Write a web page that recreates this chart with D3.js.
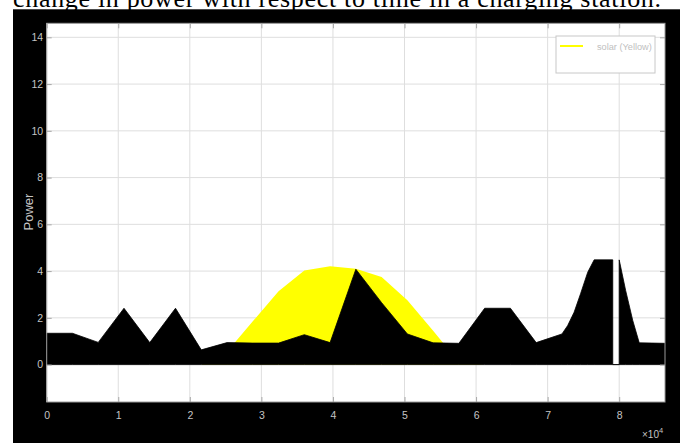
<!DOCTYPE html>
<html>
<head>
<meta charset="utf-8">
<script src="https://cdn.jsdelivr.net/npm/d3@7"></script>
<style>
  html, body { margin: 0; padding: 0; background: #ffffff; }
  svg { display: block; }
</style>
</head>
<body>
<svg id="chart" width="686" height="443"></svg>
<script>
// Charging-station power over one day (seconds), total load and solar contribution
const loadTime  = [0, 3600, 7200, 10800, 14400, 18000, 21600, 25200, 28800, 32400,
                   36000, 39600, 43200, 46800, 50400, 54000, 57600, 61200, 64800, 68400,
                   72000, 72800, 73700, 74600, 75600, 76500, 79100, 79100, 80000, 80000,
                   80900, 81900, 82800, 86400];
const loadPower = [1.34, 1.34, 0.95, 2.41, 0.94, 2.41, 0.63, 0.94, 0.92, 0.92,
                   1.28, 0.94, 4.08, 2.65, 1.31, 0.93, 0.91, 2.41, 2.41, 0.94,
                   1.31, 1.67, 2.24, 3.03, 3.95, 4.48, 4.48, 0, 0, 4.48,
                   3.17, 1.88, 0.93, 0.91];

const solarTime  = [0, 21600, 25200, 28800, 32400, 36000, 39600, 43200, 46800,
                    50400, 54000, 57600, 61200, 86400];
const solarPower = [0, 0, 0.55, 1.85, 3.14, 4.02, 4.21, 4.10, 3.75,
                    2.75, 1.45, 0.10, 0, 0];

const xTicks = [0, 10000, 20000, 30000, 40000, 50000, 60000, 70000, 80000];
const xTickLabels = ["0", "1", "2", "3", "4", "5", "6", "7", "8"];
const yTicks = [0, 2, 4, 6, 8, 10, 12, 14];
const yTickLabels = ["0", "2", "4", "6", "8", "10", "12", "14"];

const legendLabels = ["solar (Yellow)"];
const captionText = "change in power with respect to time in a charging station.";

const svg = d3.select("#chart");
const W = 686, H = 443;
const plot = { left: 46.7, right: 665, top: 23.3, bottom: 402 };
const axisGrey = "#c4c4c4";
const sans = "'Liberation Sans', Arial, sans-serif";

const x = d3.scaleLinear().domain([0, 86400]).range([plot.left, plot.right]);
const y = d3.scaleLinear().domain([-1.6, 14.6]).range([plot.bottom, plot.top]);

// document caption above the figure
svg.append("text")
  .attr("x", 13).attr("y", 6.5)
  .attr("textLength", 648).attr("lengthAdjust", "spacing")
  .style("font-family", "'Liberation Serif', 'Times New Roman', serif")
  .style("font-size", "26px")
  .attr("fill", "#000")
  .text(captionText);

// figure background
svg.append("rect")
  .attr("x", 13).attr("y", 9.3)
  .attr("width", 667).attr("height", H - 9.3)
  .attr("fill", "#000");

// axes background
svg.append("rect")
  .attr("x", plot.left).attr("y", plot.top)
  .attr("width", plot.right - plot.left).attr("height", plot.bottom - plot.top)
  .attr("fill", "#fff");

// grid
const grid = svg.append("g").attr("stroke", "#dedede").attr("stroke-width", 1);
xTicks.forEach(t => {
  grid.append("line")
    .attr("x1", x(t)).attr("x2", x(t))
    .attr("y1", plot.top).attr("y2", plot.bottom);
});
yTicks.forEach(t => {
  grid.append("line")
    .attr("x1", plot.left).attr("x2", plot.right)
    .attr("y1", y(t)).attr("y2", y(t));
});

// solar area (behind)
const solarData = solarTime.map((t, i) => ({ t, v: solarPower[i] }));
svg.append("path")
  .datum(solarData)
  .attr("fill", "#ffff00")
  .attr("d", d3.area().x(d => x(d.t)).y0(y(0)).y1(d => y(d.v)));

// total load area (front)
const loadData = loadTime.map((t, i) => ({ t, v: loadPower[i] }));
svg.append("path")
  .datum(loadData)
  .attr("fill", "#000")
  .attr("stroke", "#000")
  .attr("stroke-width", 0.8)
  .attr("stroke-linejoin", "miter")
  .attr("d", d3.area().x(d => x(d.t)).y0(y(0)).y1(d => y(d.v)));

// axes with inward ticks on all four sides
const tickLen = 5;
const xAxisBottom = d3.axisBottom(x).tickValues(xTicks)
  .tickFormat((d, i) => xTickLabels[i]).tickSizeInner(-tickLen).tickSizeOuter(0).tickPadding(9.5);
const xAxisTop = d3.axisTop(x).tickValues(xTicks)
  .tickFormat("").tickSizeInner(-tickLen).tickSizeOuter(0);
const yAxisLeft = d3.axisLeft(y).tickValues(yTicks)
  .tickFormat((d, i) => yTickLabels[i]).tickSizeInner(-tickLen).tickSizeOuter(0).tickPadding(3.5);
const yAxisRight = d3.axisRight(y).tickValues(yTicks)
  .tickFormat("").tickSizeInner(-tickLen).tickSizeOuter(0);

function styleAxis(g) {
  g.select(".domain").remove();
  g.selectAll(".tick line").attr("stroke", "#a8a8a8");
  g.selectAll(".tick text")
    .attr("fill", axisGrey)
    .style("font-family", sans)
    .style("font-size", "10.5px");
}

svg.append("g").attr("transform", `translate(0,${plot.bottom})`).call(xAxisBottom).call(styleAxis);
svg.append("g").attr("transform", `translate(0,${plot.top})`).call(xAxisTop).call(styleAxis);
svg.append("g").attr("transform", `translate(${plot.left},0)`).call(yAxisLeft).call(styleAxis);
svg.append("g").attr("transform", `translate(${plot.right},0)`).call(yAxisRight).call(styleAxis);

// axes box
svg.append("rect")
  .attr("x", plot.left).attr("y", plot.top)
  .attr("width", plot.right - plot.left).attr("height", plot.bottom - plot.top)
  .attr("fill", "none").attr("stroke", "#9a9a9a").attr("stroke-width", 1);

// exponent label
const expo = svg.append("text")
  .attr("x", 642).attr("y", 437.5)
  .attr("fill", axisGrey)
  .style("font-family", sans)
  .style("font-size", "10px");
expo.append("tspan").text("\u00d710");
expo.append("tspan").attr("dy", -5).style("font-size", "7.5px").text("4");

// y label
svg.append("text")
  .attr("transform", `translate(33,212) rotate(-90)`)
  .attr("text-anchor", "middle")
  .attr("fill", axisGrey)
  .style("font-family", sans)
  .style("font-size", "13px")
  .text("Power");

// legend
const lg = svg.append("g");
lg.append("rect")
  .attr("x", 556).attr("y", 36).attr("width", 99).attr("height", 37)
  .attr("fill", "#fff").attr("stroke", "#c8c8c8").attr("stroke-width", 1);
lg.append("line")
  .attr("x1", 560).attr("x2", 583).attr("y1", 46).attr("y2", 46)
  .attr("stroke", "#ffff00").attr("stroke-width", 2);
lg.append("text")
  .attr("x", 597).attr("y", 49.5)
  .attr("fill", "#c0c0c0")
  .style("font-family", sans)
  .style("font-size", "9.2px")
  .text(legendLabels[0]);
</script>
</body>
</html>
